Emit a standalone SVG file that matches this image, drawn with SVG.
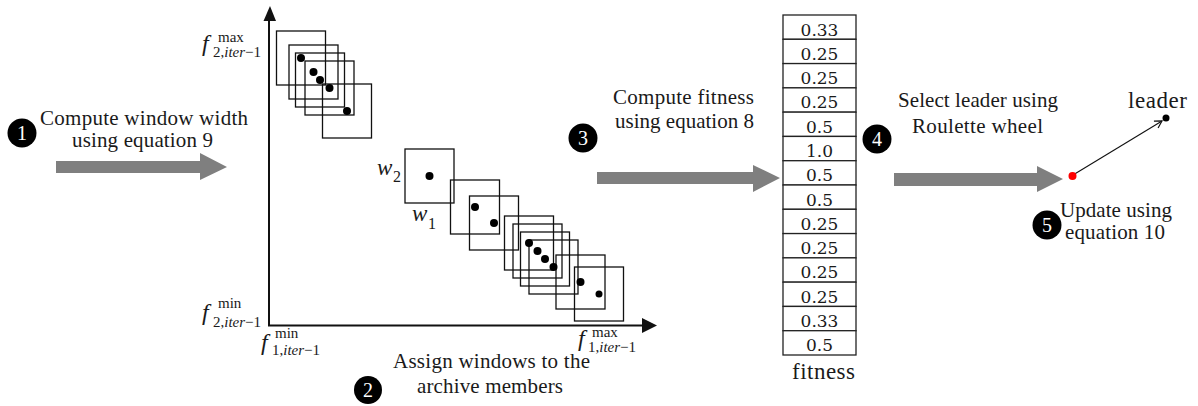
<svg xmlns="http://www.w3.org/2000/svg" width="1198" height="406" viewBox="0 0 1198 406">
<style>
.t{font-family:"Liberation Serif","Times New Roman",serif;font-size:21px;fill:#1a1a1a}
.num{font-family:"DejaVu Serif","Liberation Serif",serif;font-size:17px;fill:#1a1a1a;text-anchor:middle}
.cn{font-family:"Liberation Serif","Times New Roman",serif;font-size:20px;fill:#fff;text-anchor:middle}
.win{fill:none;stroke:#111;stroke-width:1.3}
.dot{fill:#000}
.ax{stroke:#111;stroke-width:2;fill:none}
.ga{fill:#7f7f7f}
.cell{fill:#fff;stroke:#222;stroke-width:1.3}
.fi{font-family:"Liberation Serif","Times New Roman",serif;font-size:24px;font-style:italic;fill:#1a1a1a}
.sup{font-family:"Liberation Serif","Times New Roman",serif;font-size:15px;fill:#1a1a1a}
.it{font-style:italic}
</style>
<defs>
<marker id="ah" markerWidth="10" markerHeight="10" refX="8" refY="5" orient="auto" markerUnits="userSpaceOnUse">
<path d="M1,1 L8,5 L1,9" fill="none" stroke="#111" stroke-width="1.2"/>
</marker>
</defs>

<g id="connectors">
<path class="ga" d="M56,161 H200 V153 L227,167 L200,180 V173 H56 Z"/>
<path class="ga" d="M597,172 H753 V165 L780,178 L753,192 V184 H597 Z"/>
<path class="ga" d="M894,173 H1037 V166 L1063,179 L1037,192 V186 H894 Z"/>
<line x1="1073" y1="175" x2="1162" y2="121" stroke="#111" stroke-width="1.1" marker-end="url(#ah)"/>
</g>

<g id="axes">
<line class="ax" x1="269" y1="18" x2="269" y2="326"/>
<polygon points="263.5,21 270,6 276,21" fill="#111"/>
<line class="ax" x1="268" y1="325.5" x2="645" y2="325.5"/>
<polygon points="642,318 657,325.5 642,333" fill="#111"/>
<text class="fi" x="202" y="51">f</text>
<text class="sup" x="218" y="42">max</text>
<text class="sup" x="213" y="57">2,<tspan class="it">iter</tspan>−1</text>
<text class="fi" x="202" y="320">f</text>
<text class="sup" x="218" y="308">min</text>
<text class="sup" x="213" y="327">2,<tspan class="it">iter</tspan>−1</text>
<text class="fi" x="261" y="350">f</text>
<text class="sup" x="275" y="338">min</text>
<text class="sup" x="272" y="355">1,<tspan class="it">iter</tspan>−1</text>
<text class="fi" x="578" y="346">f</text>
<text class="sup" x="592" y="337">max</text>
<text class="sup" x="588" y="352">1,<tspan class="it">iter</tspan>−1</text>
</g>

<g id="windows">
<rect class="win" x="276.5" y="31" width="49" height="54"/>
<rect class="win" x="289" y="45" width="49" height="54"/>
<rect class="win" x="295.5" y="53" width="49" height="54"/>
<rect class="win" x="305" y="61" width="49" height="54"/>
<rect class="win" x="322.5" y="84" width="49" height="54"/>
<rect class="win" x="405" y="149" width="49" height="54"/>
<rect class="win" x="450.5" y="180" width="49" height="54"/>
<rect class="win" x="469.5" y="196" width="49" height="54"/>
<rect class="win" x="504.5" y="216" width="49" height="54"/>
<rect class="win" x="513" y="224" width="49" height="54"/>
<rect class="win" x="520.5" y="232" width="49" height="54"/>
<rect class="win" x="529" y="240" width="49" height="54"/>
<rect class="win" x="556" y="255" width="49" height="54"/>
<rect class="win" x="574.5" y="267" width="49" height="54"/>
<circle class="dot" cx="301" cy="58" r="4"/>
<circle class="dot" cx="313.5" cy="72" r="4"/>
<circle class="dot" cx="320" cy="80" r="4"/>
<circle class="dot" cx="329.5" cy="88" r="4"/>
<circle class="dot" cx="347" cy="111" r="4"/>
<circle class="dot" cx="429.5" cy="176" r="4"/>
<circle class="dot" cx="475" cy="207" r="4"/>
<circle class="dot" cx="494" cy="223" r="4"/>
<circle class="dot" cx="529" cy="243" r="4"/>
<circle class="dot" cx="537.5" cy="251" r="4"/>
<circle class="dot" cx="545" cy="259" r="4"/>
<circle class="dot" cx="553.5" cy="267" r="4"/>
<circle class="dot" cx="580.5" cy="282" r="4"/>
<circle class="dot" cx="599" cy="294" r="3.5"/>
<text class="t it" x="377" y="175" style="font-size:23px">w</text>
<text class="sup" x="393" y="182" style="font-size:16px">2</text>
<text class="t it" x="412" y="221" style="font-size:23px">w</text>
<text class="sup" x="428" y="229" style="font-size:16px">1</text>
</g>

<g id="step1">
<circle cx="22" cy="133" r="14.5" fill="#000"/>
<text class="cn" x="22" y="140">1</text>
<text class="t" x="40" y="125" textLength="208" lengthAdjust="spacing">Compute window width</text>
<text class="t" x="72" y="147" textLength="141" lengthAdjust="spacing">using equation 9</text>
</g>

<g id="step2">
<circle cx="368" cy="390" r="14" fill="#000"/>
<text class="cn" x="368" y="397">2</text>
<text class="t" x="393" y="368" textLength="197" lengthAdjust="spacing">Assign windows to the</text>
<text class="t" x="417" y="393" textLength="146" lengthAdjust="spacing">archive members</text>
</g>

<g id="step3">
<circle cx="583" cy="138" r="14.5" fill="#000"/>
<text class="cn" x="583" y="145">3</text>
<text class="t" x="613" y="104" textLength="141" lengthAdjust="spacing">Compute fitness</text>
<text class="t" x="615" y="128" textLength="139" lengthAdjust="spacing">using equation 8</text>
</g>

<g id="fitness">
<rect class="cell" x="783" y="15" width="73" height="24.29"/>
<rect class="cell" x="783" y="39.29" width="73" height="24.29"/>
<rect class="cell" x="783" y="63.57" width="73" height="24.29"/>
<rect class="cell" x="783" y="87.86" width="73" height="24.29"/>
<rect class="cell" x="783" y="112.14" width="73" height="24.29"/>
<rect class="cell" x="783" y="136.43" width="73" height="24.29"/>
<rect class="cell" x="783" y="160.71" width="73" height="24.29"/>
<rect class="cell" x="783" y="185" width="73" height="24.29"/>
<rect class="cell" x="783" y="209.29" width="73" height="24.29"/>
<rect class="cell" x="783" y="233.57" width="73" height="24.29"/>
<rect class="cell" x="783" y="257.86" width="73" height="24.29"/>
<rect class="cell" x="783" y="282.14" width="73" height="24.29"/>
<rect class="cell" x="783" y="306.43" width="73" height="24.29"/>
<rect class="cell" x="783" y="330.71" width="73" height="24.29"/>
<text class="num" x="819.5" y="35.5">0.33</text>
<text class="num" x="819.5" y="59.8">0.25</text>
<text class="num" x="819.5" y="84.1">0.25</text>
<text class="num" x="819.5" y="108.4">0.25</text>
<text class="num" x="819.5" y="132.6">0.5</text>
<text class="num" x="819.5" y="156.9">1.0</text>
<text class="num" x="819.5" y="181.2">0.5</text>
<text class="num" x="819.5" y="205.5">0.5</text>
<text class="num" x="819.5" y="229.8">0.25</text>
<text class="num" x="819.5" y="254.1">0.25</text>
<text class="num" x="819.5" y="278.4">0.25</text>
<text class="num" x="819.5" y="302.6">0.25</text>
<text class="num" x="819.5" y="326.9">0.33</text>
<text class="num" x="819.5" y="351.2">0.5</text>
<text class="t" x="792" y="379" style="font-size:23px" textLength="63" lengthAdjust="spacing">fitness</text>
</g>

<g id="step4">
<circle cx="877" cy="139" r="14.5" fill="#000"/>
<text class="cn" x="877" y="146">4</text>
<text class="t" x="898" y="107" textLength="160" lengthAdjust="spacing">Select leader using</text>
<text class="t" x="912" y="133" textLength="131" lengthAdjust="spacing">Roulette wheel</text>
</g>

<g id="step5">
<circle cx="1072.5" cy="176" r="4" fill="#f00"/>
<circle cx="1166" cy="118" r="3.5" fill="#000"/>
<text class="t" x="1128" y="108" style="font-size:23px" textLength="59" lengthAdjust="spacing">leader</text>
<circle cx="1047" cy="225" r="14.5" fill="#000"/>
<text class="cn" x="1047" y="232">5</text>
<text class="t" x="1060" y="217" textLength="112" lengthAdjust="spacing">Update using</text>
<text class="t" x="1065" y="239" textLength="100" lengthAdjust="spacing">equation 10</text>
</g>
</svg>
